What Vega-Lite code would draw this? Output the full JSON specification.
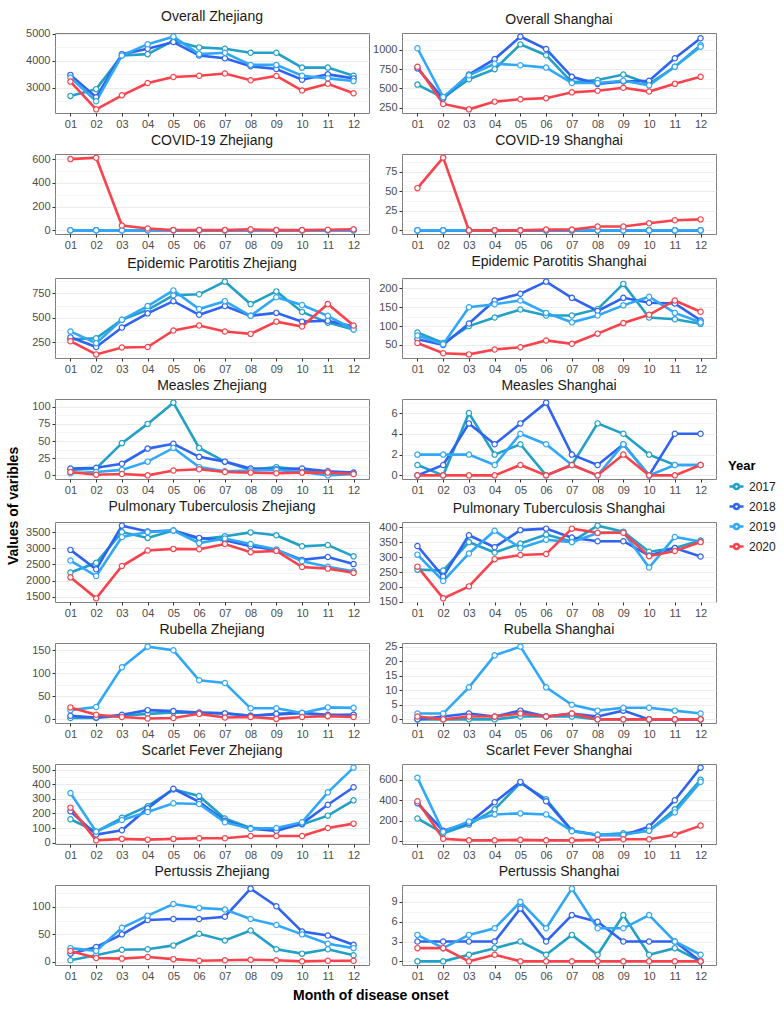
{
"$schema":"https://vega.github.io/schema/vega-lite/v6.json",
"background":"white",
"padding":{"left":7,"top":9,"right":4,"bottom":2},
"title":{"text":"Values of varibles","orient":"left","anchor":"middle","fontSize":14,"fontWeight":"bold","color":"#000000","offset":4,"font":"Liberation Sans"},
"config":{
 "font":"Liberation Sans",
 "numberFormat":"d",
 "view":{"stroke":"#7f7f7f","strokeWidth":1},
 "title":{"fontSize":14,"fontWeight":"normal","color":"#1a1a1a","offset":4},
 "axis":{"labelColor":"#4d4d4d","labelFontSize":11,"tickColor":"#333333","tickSize":3,"gridColor":"#ebebeb","domain":false,"labelPadding":2,"labelOverlap":false,"labelFlush":false},
 "axisX":{"labelAngle":0},
 "range":{"category":["#22a0c6","#2f63f0","#31a7f7","#f8434d"]},
 "line":{"strokeWidth":2.6},
 "legend":{"titleFontSize":13,"titleFontWeight":"bold","titleColor":"#000000","labelFontSize":12,"labelColor":"#1a1a1a","symbolSize":196,"symbolStrokeWidth":2,"symbolFillColor":"white","rowPadding":3}
},
"datasets":{
"OZ":[{"m":"01","y":"2017","v":2700},{"m":"02","y":"2017","v":2950},{"m":"03","y":"2017","v":4200},{"m":"04","y":"2017","v":4250},{"m":"05","y":"2017","v":4750},{"m":"06","y":"2017","v":4500},{"m":"07","y":"2017","v":4450},{"m":"08","y":"2017","v":4300},{"m":"09","y":"2017","v":4300},{"m":"10","y":"2017","v":3750},{"m":"11","y":"2017","v":3750},{"m":"12","y":"2017","v":3450},
{"m":"01","y":"2018","v":3480},{"m":"02","y":"2018","v":2650},{"m":"03","y":"2018","v":4250},{"m":"04","y":"2018","v":4450},{"m":"05","y":"2018","v":4700},{"m":"06","y":"2018","v":4200},{"m":"07","y":"2018","v":4100},{"m":"08","y":"2018","v":3800},{"m":"09","y":"2018","v":3700},{"m":"10","y":"2018","v":3300},{"m":"11","y":"2018","v":3500},{"m":"12","y":"2018","v":3350},
{"m":"01","y":"2019","v":3380},{"m":"02","y":"2019","v":2500},{"m":"03","y":"2019","v":4200},{"m":"04","y":"2019","v":4620},{"m":"05","y":"2019","v":4900},{"m":"06","y":"2019","v":4250},{"m":"07","y":"2019","v":4300},{"m":"08","y":"2019","v":3850},{"m":"09","y":"2019","v":3850},{"m":"10","y":"2019","v":3450},{"m":"11","y":"2019","v":3350},{"m":"12","y":"2019","v":3250},
{"m":"01","y":"2020","v":3230},{"m":"02","y":"2020","v":2200},{"m":"03","y":"2020","v":2720},{"m":"04","y":"2020","v":3180},{"m":"05","y":"2020","v":3400},{"m":"06","y":"2020","v":3450},{"m":"07","y":"2020","v":3530},{"m":"08","y":"2020","v":3280},{"m":"09","y":"2020","v":3440},{"m":"10","y":"2020","v":2900},{"m":"11","y":"2020","v":3150},{"m":"12","y":"2020","v":2800}],
"OS":[{"m":"01","y":"2017","v":550},{"m":"02","y":"2017","v":380},{"m":"03","y":"2017","v":620},{"m":"04","y":"2017","v":750},{"m":"05","y":"2017","v":1070},{"m":"06","y":"2017","v":930},{"m":"07","y":"2017","v":580},{"m":"08","y":"2017","v":610},{"m":"09","y":"2017","v":680},{"m":"10","y":"2017","v":560},{"m":"11","y":"2017","v":780},{"m":"12","y":"2017","v":1060},
{"m":"01","y":"2018","v":760},{"m":"02","y":"2018","v":370},{"m":"03","y":"2018","v":680},{"m":"04","y":"2018","v":880},{"m":"05","y":"2018","v":1170},{"m":"06","y":"2018","v":1010},{"m":"07","y":"2018","v":650},{"m":"08","y":"2018","v":560},{"m":"09","y":"2018","v":590},{"m":"10","y":"2018","v":600},{"m":"11","y":"2018","v":890},{"m":"12","y":"2018","v":1150},
{"m":"01","y":"2019","v":1020},{"m":"02","y":"2019","v":390},{"m":"03","y":"2019","v":670},{"m":"04","y":"2019","v":820},{"m":"05","y":"2019","v":800},{"m":"06","y":"2019","v":770},{"m":"07","y":"2019","v":570},{"m":"08","y":"2019","v":570},{"m":"09","y":"2019","v":600},{"m":"10","y":"2019","v":540},{"m":"11","y":"2019","v":780},{"m":"12","y":"2019","v":1040},
{"m":"01","y":"2020","v":780},{"m":"02","y":"2020","v":300},{"m":"03","y":"2020","v":230},{"m":"04","y":"2020","v":330},{"m":"05","y":"2020","v":360},{"m":"06","y":"2020","v":375},{"m":"07","y":"2020","v":450},{"m":"08","y":"2020","v":470},{"m":"09","y":"2020","v":510},{"m":"10","y":"2020","v":460},{"m":"11","y":"2020","v":560},{"m":"12","y":"2020","v":650}],
"CZ":[{"m":"01","y":"2017","v":0},{"m":"02","y":"2017","v":0},{"m":"03","y":"2017","v":0},{"m":"04","y":"2017","v":0},{"m":"05","y":"2017","v":0},{"m":"06","y":"2017","v":0},{"m":"07","y":"2017","v":0},{"m":"08","y":"2017","v":0},{"m":"09","y":"2017","v":0},{"m":"10","y":"2017","v":0},{"m":"11","y":"2017","v":0},{"m":"12","y":"2017","v":0},
{"m":"01","y":"2018","v":0},{"m":"02","y":"2018","v":0},{"m":"03","y":"2018","v":0},{"m":"04","y":"2018","v":0},{"m":"05","y":"2018","v":0},{"m":"06","y":"2018","v":0},{"m":"07","y":"2018","v":0},{"m":"08","y":"2018","v":0},{"m":"09","y":"2018","v":0},{"m":"10","y":"2018","v":0},{"m":"11","y":"2018","v":0},{"m":"12","y":"2018","v":0},
{"m":"01","y":"2019","v":0},{"m":"02","y":"2019","v":0},{"m":"03","y":"2019","v":0},{"m":"04","y":"2019","v":0},{"m":"05","y":"2019","v":0},{"m":"06","y":"2019","v":0},{"m":"07","y":"2019","v":0},{"m":"08","y":"2019","v":0},{"m":"09","y":"2019","v":0},{"m":"10","y":"2019","v":0},{"m":"11","y":"2019","v":0},{"m":"12","y":"2019","v":0},
{"m":"01","y":"2020","v":600},{"m":"02","y":"2020","v":612},{"m":"03","y":"2020","v":40},{"m":"04","y":"2020","v":15},{"m":"05","y":"2020","v":2},{"m":"06","y":"2020","v":2},{"m":"07","y":"2020","v":2},{"m":"08","y":"2020","v":8},{"m":"09","y":"2020","v":2},{"m":"10","y":"2020","v":2},{"m":"11","y":"2020","v":5},{"m":"12","y":"2020","v":8}],
"CS":[{"m":"01","y":"2017","v":0},{"m":"02","y":"2017","v":0},{"m":"03","y":"2017","v":0},{"m":"04","y":"2017","v":0},{"m":"05","y":"2017","v":0},{"m":"06","y":"2017","v":0},{"m":"07","y":"2017","v":0},{"m":"08","y":"2017","v":0},{"m":"09","y":"2017","v":0},{"m":"10","y":"2017","v":0},{"m":"11","y":"2017","v":0},{"m":"12","y":"2017","v":0},
{"m":"01","y":"2018","v":0},{"m":"02","y":"2018","v":0},{"m":"03","y":"2018","v":0},{"m":"04","y":"2018","v":0},{"m":"05","y":"2018","v":0},{"m":"06","y":"2018","v":0},{"m":"07","y":"2018","v":0},{"m":"08","y":"2018","v":0},{"m":"09","y":"2018","v":0},{"m":"10","y":"2018","v":0},{"m":"11","y":"2018","v":0},{"m":"12","y":"2018","v":0},
{"m":"01","y":"2019","v":0},{"m":"02","y":"2019","v":0},{"m":"03","y":"2019","v":0},{"m":"04","y":"2019","v":0},{"m":"05","y":"2019","v":0},{"m":"06","y":"2019","v":0},{"m":"07","y":"2019","v":0},{"m":"08","y":"2019","v":0},{"m":"09","y":"2019","v":0},{"m":"10","y":"2019","v":0},{"m":"11","y":"2019","v":0},{"m":"12","y":"2019","v":0},
{"m":"01","y":"2020","v":54},{"m":"02","y":"2020","v":93},{"m":"03","y":"2020","v":0},{"m":"04","y":"2020","v":0},{"m":"05","y":"2020","v":0},{"m":"06","y":"2020","v":1},{"m":"07","y":"2020","v":1},{"m":"08","y":"2020","v":5},{"m":"09","y":"2020","v":5},{"m":"10","y":"2020","v":9},{"m":"11","y":"2020","v":13},{"m":"12","y":"2020","v":14}],
"EZ":[{"m":"01","y":"2017","v":280},{"m":"02","y":"2017","v":290},{"m":"03","y":"2017","v":480},{"m":"04","y":"2017","v":580},{"m":"05","y":"2017","v":730},{"m":"06","y":"2017","v":740},{"m":"07","y":"2017","v":870},{"m":"08","y":"2017","v":640},{"m":"09","y":"2017","v":770},{"m":"10","y":"2017","v":560},{"m":"11","y":"2017","v":450},{"m":"12","y":"2017","v":380},
{"m":"01","y":"2018","v":300},{"m":"02","y":"2018","v":200},{"m":"03","y":"2018","v":400},{"m":"04","y":"2018","v":545},{"m":"05","y":"2018","v":670},{"m":"06","y":"2018","v":530},{"m":"07","y":"2018","v":620},{"m":"08","y":"2018","v":520},{"m":"09","y":"2018","v":550},{"m":"10","y":"2018","v":460},{"m":"11","y":"2018","v":470},{"m":"12","y":"2018","v":410},
{"m":"01","y":"2019","v":360},{"m":"02","y":"2019","v":240},{"m":"03","y":"2019","v":480},{"m":"04","y":"2019","v":620},{"m":"05","y":"2019","v":780},{"m":"06","y":"2019","v":590},{"m":"07","y":"2019","v":670},{"m":"08","y":"2019","v":520},{"m":"09","y":"2019","v":710},{"m":"10","y":"2019","v":630},{"m":"11","y":"2019","v":520},{"m":"12","y":"2019","v":380},
{"m":"01","y":"2020","v":260},{"m":"02","y":"2020","v":125},{"m":"03","y":"2020","v":195},{"m":"04","y":"2020","v":200},{"m":"05","y":"2020","v":370},{"m":"06","y":"2020","v":420},{"m":"07","y":"2020","v":360},{"m":"08","y":"2020","v":335},{"m":"09","y":"2020","v":460},{"m":"10","y":"2020","v":410},{"m":"11","y":"2020","v":640},{"m":"12","y":"2020","v":420}],
"ES":[{"m":"01","y":"2017","v":83},{"m":"02","y":"2017","v":55},{"m":"03","y":"2017","v":100},{"m":"04","y":"2017","v":123},{"m":"05","y":"2017","v":144},{"m":"06","y":"2017","v":128},{"m":"07","y":"2017","v":128},{"m":"08","y":"2017","v":145},{"m":"09","y":"2017","v":212},{"m":"10","y":"2017","v":123},{"m":"11","y":"2017","v":118},{"m":"12","y":"2017","v":106},
{"m":"01","y":"2018","v":65},{"m":"02","y":"2018","v":50},{"m":"03","y":"2018","v":107},{"m":"04","y":"2018","v":168},{"m":"05","y":"2018","v":186},{"m":"06","y":"2018","v":218},{"m":"07","y":"2018","v":175},{"m":"08","y":"2018","v":140},{"m":"09","y":"2018","v":175},{"m":"10","y":"2018","v":162},{"m":"11","y":"2018","v":160},{"m":"12","y":"2018","v":115},
{"m":"01","y":"2019","v":75},{"m":"02","y":"2019","v":52},{"m":"03","y":"2019","v":150},{"m":"04","y":"2019","v":158},{"m":"05","y":"2019","v":168},{"m":"06","y":"2019","v":135},{"m":"07","y":"2019","v":110},{"m":"08","y":"2019","v":128},{"m":"09","y":"2019","v":155},{"m":"10","y":"2019","v":178},{"m":"11","y":"2019","v":135},{"m":"12","y":"2019","v":110},
{"m":"01","y":"2020","v":55},{"m":"02","y":"2020","v":28},{"m":"03","y":"2020","v":25},{"m":"04","y":"2020","v":38},{"m":"05","y":"2020","v":44},{"m":"06","y":"2020","v":62},{"m":"07","y":"2020","v":53},{"m":"08","y":"2020","v":80},{"m":"09","y":"2020","v":108},{"m":"10","y":"2020","v":130},{"m":"11","y":"2020","v":168},{"m":"12","y":"2020","v":138}],
"MZ":[{"m":"01","y":"2017","v":8},{"m":"02","y":"2017","v":10},{"m":"03","y":"2017","v":47},{"m":"04","y":"2017","v":75},{"m":"05","y":"2017","v":106},{"m":"06","y":"2017","v":40},{"m":"07","y":"2017","v":20},{"m":"08","y":"2017","v":8},{"m":"09","y":"2017","v":12},{"m":"10","y":"2017","v":8},{"m":"11","y":"2017","v":4},{"m":"12","y":"2017","v":3},
{"m":"01","y":"2018","v":10},{"m":"02","y":"2018","v":11},{"m":"03","y":"2018","v":17},{"m":"04","y":"2018","v":39},{"m":"05","y":"2018","v":46},{"m":"06","y":"2018","v":27},{"m":"07","y":"2018","v":20},{"m":"08","y":"2018","v":10},{"m":"09","y":"2018","v":9},{"m":"10","y":"2018","v":10},{"m":"11","y":"2018","v":6},{"m":"12","y":"2018","v":4},
{"m":"01","y":"2019","v":3},{"m":"02","y":"2019","v":5},{"m":"03","y":"2019","v":8},{"m":"04","y":"2019","v":20},{"m":"05","y":"2019","v":40},{"m":"06","y":"2019","v":12},{"m":"07","y":"2019","v":6},{"m":"08","y":"2019","v":7},{"m":"09","y":"2019","v":8},{"m":"10","y":"2019","v":5},{"m":"11","y":"2019","v":0},{"m":"12","y":"2019","v":2},
{"m":"01","y":"2020","v":5},{"m":"02","y":"2020","v":1},{"m":"03","y":"2020","v":2},{"m":"04","y":"2020","v":0},{"m":"05","y":"2020","v":7},{"m":"06","y":"2020","v":9},{"m":"07","y":"2020","v":5},{"m":"08","y":"2020","v":4},{"m":"09","y":"2020","v":3},{"m":"10","y":"2020","v":4},{"m":"11","y":"2020","v":4},{"m":"12","y":"2020","v":2}],
"MS":[{"m":"01","y":"2017","v":1},{"m":"02","y":"2017","v":0},{"m":"03","y":"2017","v":6},{"m":"04","y":"2017","v":2},{"m":"05","y":"2017","v":3},{"m":"06","y":"2017","v":0},{"m":"07","y":"2017","v":1},{"m":"08","y":"2017","v":5},{"m":"09","y":"2017","v":4},{"m":"10","y":"2017","v":2},{"m":"11","y":"2017","v":1},{"m":"12","y":"2017","v":1},
{"m":"01","y":"2018","v":0},{"m":"02","y":"2018","v":1},{"m":"03","y":"2018","v":5},{"m":"04","y":"2018","v":3},{"m":"05","y":"2018","v":5},{"m":"06","y":"2018","v":7},{"m":"07","y":"2018","v":2},{"m":"08","y":"2018","v":1},{"m":"09","y":"2018","v":3},{"m":"10","y":"2018","v":0},{"m":"11","y":"2018","v":4},{"m":"12","y":"2018","v":4},
{"m":"01","y":"2019","v":2},{"m":"02","y":"2019","v":2},{"m":"03","y":"2019","v":2},{"m":"04","y":"2019","v":1},{"m":"05","y":"2019","v":4},{"m":"06","y":"2019","v":3},{"m":"07","y":"2019","v":1},{"m":"08","y":"2019","v":0},{"m":"09","y":"2019","v":3},{"m":"10","y":"2019","v":0},{"m":"11","y":"2019","v":1},{"m":"12","y":"2019","v":1},
{"m":"01","y":"2020","v":0},{"m":"02","y":"2020","v":0},{"m":"03","y":"2020","v":0},{"m":"04","y":"2020","v":0},{"m":"05","y":"2020","v":1},{"m":"06","y":"2020","v":0},{"m":"07","y":"2020","v":1},{"m":"08","y":"2020","v":0},{"m":"09","y":"2020","v":2},{"m":"10","y":"2020","v":0},{"m":"11","y":"2020","v":0},{"m":"12","y":"2020","v":1}],
"PZ":[{"m":"01","y":"2017","v":2250},{"m":"02","y":"2017","v":2550},{"m":"03","y":"2017","v":3500},{"m":"04","y":"2017","v":3320},{"m":"05","y":"2017","v":3550},{"m":"06","y":"2017","v":3280},{"m":"07","y":"2017","v":3370},{"m":"08","y":"2017","v":3490},{"m":"09","y":"2017","v":3400},{"m":"10","y":"2017","v":3060},{"m":"11","y":"2017","v":3100},{"m":"12","y":"2017","v":2750},
{"m":"01","y":"2018","v":2950},{"m":"02","y":"2018","v":2350},{"m":"03","y":"2018","v":3700},{"m":"04","y":"2018","v":3520},{"m":"05","y":"2018","v":3550},{"m":"06","y":"2018","v":3320},{"m":"07","y":"2018","v":3250},{"m":"08","y":"2018","v":3060},{"m":"09","y":"2018","v":2950},{"m":"10","y":"2018","v":2640},{"m":"11","y":"2018","v":2730},{"m":"12","y":"2018","v":2510},
{"m":"01","y":"2019","v":2620},{"m":"02","y":"2019","v":2140},{"m":"03","y":"2019","v":3350},{"m":"04","y":"2019","v":3500},{"m":"05","y":"2019","v":3550},{"m":"06","y":"2019","v":3160},{"m":"07","y":"2019","v":3300},{"m":"08","y":"2019","v":3130},{"m":"09","y":"2019","v":2960},{"m":"10","y":"2019","v":2600},{"m":"11","y":"2019","v":2430},{"m":"12","y":"2019","v":2290},
{"m":"01","y":"2020","v":2100},{"m":"02","y":"2020","v":1450},{"m":"03","y":"2020","v":2450},{"m":"04","y":"2020","v":2930},{"m":"05","y":"2020","v":2980},{"m":"06","y":"2020","v":2970},{"m":"07","y":"2020","v":3130},{"m":"08","y":"2020","v":2880},{"m":"09","y":"2020","v":2920},{"m":"10","y":"2020","v":2420},{"m":"11","y":"2020","v":2370},{"m":"12","y":"2020","v":2240}],
"PS":[{"m":"01","y":"2017","v":258},{"m":"02","y":"2017","v":255},{"m":"03","y":"2017","v":350},{"m":"04","y":"2017","v":315},{"m":"05","y":"2017","v":345},{"m":"06","y":"2017","v":375},{"m":"07","y":"2017","v":352},{"m":"08","y":"2017","v":405},{"m":"09","y":"2017","v":385},{"m":"10","y":"2017","v":318},{"m":"11","y":"2017","v":330},{"m":"12","y":"2017","v":355},
{"m":"01","y":"2018","v":337},{"m":"02","y":"2018","v":235},{"m":"03","y":"2018","v":373},{"m":"04","y":"2018","v":333},{"m":"05","y":"2018","v":390},{"m":"06","y":"2018","v":395},{"m":"07","y":"2018","v":365},{"m":"08","y":"2018","v":353},{"m":"09","y":"2018","v":353},{"m":"10","y":"2018","v":305},{"m":"11","y":"2018","v":330},{"m":"12","y":"2018","v":302},
{"m":"01","y":"2019","v":308},{"m":"02","y":"2019","v":220},{"m":"03","y":"2019","v":312},{"m":"04","y":"2019","v":388},{"m":"05","y":"2019","v":330},{"m":"06","y":"2019","v":358},{"m":"07","y":"2019","v":350},{"m":"08","y":"2019","v":380},{"m":"09","y":"2019","v":383},{"m":"10","y":"2019","v":265},{"m":"11","y":"2019","v":367},{"m":"12","y":"2019","v":352},
{"m":"01","y":"2020","v":268},{"m":"02","y":"2020","v":162},{"m":"03","y":"2020","v":202},{"m":"04","y":"2020","v":293},{"m":"05","y":"2020","v":307},{"m":"06","y":"2020","v":310},{"m":"07","y":"2020","v":395},{"m":"08","y":"2020","v":381},{"m":"09","y":"2020","v":381},{"m":"10","y":"2020","v":303},{"m":"11","y":"2020","v":320},{"m":"12","y":"2020","v":350}],
"RZ":[{"m":"01","y":"2017","v":3},{"m":"02","y":"2017","v":3},{"m":"03","y":"2017","v":8},{"m":"04","y":"2017","v":12},{"m":"05","y":"2017","v":15},{"m":"06","y":"2017","v":14},{"m":"07","y":"2017","v":13},{"m":"08","y":"2017","v":8},{"m":"09","y":"2017","v":10},{"m":"10","y":"2017","v":14},{"m":"11","y":"2017","v":8},{"m":"12","y":"2017","v":10},
{"m":"01","y":"2018","v":8},{"m":"02","y":"2018","v":4},{"m":"03","y":"2018","v":10},{"m":"04","y":"2018","v":20},{"m":"05","y":"2018","v":18},{"m":"06","y":"2018","v":15},{"m":"07","y":"2018","v":13},{"m":"08","y":"2018","v":8},{"m":"09","y":"2018","v":12},{"m":"10","y":"2018","v":14},{"m":"11","y":"2018","v":10},{"m":"12","y":"2018","v":10},
{"m":"01","y":"2019","v":20},{"m":"02","y":"2019","v":27},{"m":"03","y":"2019","v":113},{"m":"04","y":"2019","v":158},{"m":"05","y":"2019","v":150},{"m":"06","y":"2019","v":85},{"m":"07","y":"2019","v":79},{"m":"08","y":"2019","v":24},{"m":"09","y":"2019","v":24},{"m":"10","y":"2019","v":14},{"m":"11","y":"2019","v":26},{"m":"12","y":"2019","v":25},
{"m":"01","y":"2020","v":26},{"m":"02","y":"2020","v":10},{"m":"03","y":"2020","v":5},{"m":"04","y":"2020","v":2},{"m":"05","y":"2020","v":3},{"m":"06","y":"2020","v":12},{"m":"07","y":"2020","v":4},{"m":"08","y":"2020","v":5},{"m":"09","y":"2020","v":1},{"m":"10","y":"2020","v":5},{"m":"11","y":"2020","v":7},{"m":"12","y":"2020","v":5}],
"RS":[{"m":"01","y":"2017","v":0},{"m":"02","y":"2017","v":0},{"m":"03","y":"2017","v":0},{"m":"04","y":"2017","v":0},{"m":"05","y":"2017","v":1},{"m":"06","y":"2017","v":1},{"m":"07","y":"2017","v":1},{"m":"08","y":"2017","v":0},{"m":"09","y":"2017","v":0},{"m":"10","y":"2017","v":0},{"m":"11","y":"2017","v":0},{"m":"12","y":"2017","v":0},
{"m":"01","y":"2018","v":0},{"m":"02","y":"2018","v":1},{"m":"03","y":"2018","v":2},{"m":"04","y":"2018","v":1},{"m":"05","y":"2018","v":3},{"m":"06","y":"2018","v":1},{"m":"07","y":"2018","v":2},{"m":"08","y":"2018","v":1},{"m":"09","y":"2018","v":3},{"m":"10","y":"2018","v":0},{"m":"11","y":"2018","v":0},{"m":"12","y":"2018","v":0},
{"m":"01","y":"2019","v":2},{"m":"02","y":"2019","v":2},{"m":"03","y":"2019","v":11},{"m":"04","y":"2019","v":22},{"m":"05","y":"2019","v":25},{"m":"06","y":"2019","v":11},{"m":"07","y":"2019","v":5},{"m":"08","y":"2019","v":3},{"m":"09","y":"2019","v":4},{"m":"10","y":"2019","v":4},{"m":"11","y":"2019","v":3},{"m":"12","y":"2019","v":2},
{"m":"01","y":"2020","v":1},{"m":"02","y":"2020","v":0},{"m":"03","y":"2020","v":1},{"m":"04","y":"2020","v":1},{"m":"05","y":"2020","v":2},{"m":"06","y":"2020","v":1},{"m":"07","y":"2020","v":2},{"m":"08","y":"2020","v":0},{"m":"09","y":"2020","v":0},{"m":"10","y":"2020","v":0},{"m":"11","y":"2020","v":0},{"m":"12","y":"2020","v":0}],
"SZ":[{"m":"01","y":"2017","v":160},{"m":"02","y":"2017","v":75},{"m":"03","y":"2017","v":170},{"m":"04","y":"2017","v":250},{"m":"05","y":"2017","v":365},{"m":"06","y":"2017","v":320},{"m":"07","y":"2017","v":165},{"m":"08","y":"2017","v":100},{"m":"09","y":"2017","v":95},{"m":"10","y":"2017","v":125},{"m":"11","y":"2017","v":185},{"m":"12","y":"2017","v":290},
{"m":"01","y":"2018","v":215},{"m":"02","y":"2018","v":55},{"m":"03","y":"2018","v":85},{"m":"04","y":"2018","v":235},{"m":"05","y":"2018","v":370},{"m":"06","y":"2018","v":280},{"m":"07","y":"2018","v":150},{"m":"08","y":"2018","v":95},{"m":"09","y":"2018","v":80},{"m":"10","y":"2018","v":130},{"m":"11","y":"2018","v":260},{"m":"12","y":"2018","v":380},
{"m":"01","y":"2019","v":340},{"m":"02","y":"2019","v":75},{"m":"03","y":"2019","v":155},{"m":"04","y":"2019","v":210},{"m":"05","y":"2019","v":270},{"m":"06","y":"2019","v":265},{"m":"07","y":"2019","v":140},{"m":"08","y":"2019","v":95},{"m":"09","y":"2019","v":100},{"m":"10","y":"2019","v":140},{"m":"11","y":"2019","v":345},{"m":"12","y":"2019","v":515},
{"m":"01","y":"2020","v":240},{"m":"02","y":"2020","v":15},{"m":"03","y":"2020","v":25},{"m":"04","y":"2020","v":20},{"m":"05","y":"2020","v":25},{"m":"06","y":"2020","v":30},{"m":"07","y":"2020","v":30},{"m":"08","y":"2020","v":45},{"m":"09","y":"2020","v":45},{"m":"10","y":"2020","v":45},{"m":"11","y":"2020","v":100},{"m":"12","y":"2020","v":130}],
"SS":[{"m":"01","y":"2017","v":220},{"m":"02","y":"2017","v":75},{"m":"03","y":"2017","v":160},{"m":"04","y":"2017","v":310},{"m":"05","y":"2017","v":570},{"m":"06","y":"2017","v":410},{"m":"07","y":"2017","v":100},{"m":"08","y":"2017","v":60},{"m":"09","y":"2017","v":75},{"m":"10","y":"2017","v":100},{"m":"11","y":"2017","v":310},{"m":"12","y":"2017","v":600},
{"m":"01","y":"2018","v":370},{"m":"02","y":"2018","v":100},{"m":"03","y":"2018","v":175},{"m":"04","y":"2018","v":380},{"m":"05","y":"2018","v":580},{"m":"06","y":"2018","v":390},{"m":"07","y":"2018","v":100},{"m":"08","y":"2018","v":55},{"m":"09","y":"2018","v":55},{"m":"10","y":"2018","v":140},{"m":"11","y":"2018","v":400},{"m":"12","y":"2018","v":720},
{"m":"01","y":"2019","v":620},{"m":"02","y":"2019","v":90},{"m":"03","y":"2019","v":190},{"m":"04","y":"2019","v":260},{"m":"05","y":"2019","v":270},{"m":"06","y":"2019","v":260},{"m":"07","y":"2019","v":95},{"m":"08","y":"2019","v":60},{"m":"09","y":"2019","v":60},{"m":"10","y":"2019","v":100},{"m":"11","y":"2019","v":280},{"m":"12","y":"2019","v":580},
{"m":"01","y":"2020","v":390},{"m":"02","y":"2020","v":20},{"m":"03","y":"2020","v":5},{"m":"04","y":"2020","v":5},{"m":"05","y":"2020","v":10},{"m":"06","y":"2020","v":5},{"m":"07","y":"2020","v":5},{"m":"08","y":"2020","v":10},{"m":"09","y":"2020","v":15},{"m":"10","y":"2020","v":15},{"m":"11","y":"2020","v":60},{"m":"12","y":"2020","v":150}],
"TZ":[{"m":"01","y":"2017","v":3},{"m":"02","y":"2017","v":12},{"m":"03","y":"2017","v":22},{"m":"04","y":"2017","v":23},{"m":"05","y":"2017","v":30},{"m":"06","y":"2017","v":51},{"m":"07","y":"2017","v":39},{"m":"08","y":"2017","v":57},{"m":"09","y":"2017","v":23},{"m":"10","y":"2017","v":15},{"m":"11","y":"2017","v":23},{"m":"12","y":"2017","v":12},
{"m":"01","y":"2018","v":15},{"m":"02","y":"2018","v":27},{"m":"03","y":"2018","v":50},{"m":"04","y":"2018","v":76},{"m":"05","y":"2018","v":78},{"m":"06","y":"2018","v":78},{"m":"07","y":"2018","v":82},{"m":"08","y":"2018","v":133},{"m":"09","y":"2018","v":101},{"m":"10","y":"2018","v":55},{"m":"11","y":"2018","v":48},{"m":"12","y":"2018","v":31},
{"m":"01","y":"2019","v":25},{"m":"02","y":"2019","v":20},{"m":"03","y":"2019","v":62},{"m":"04","y":"2019","v":84},{"m":"05","y":"2019","v":105},{"m":"06","y":"2019","v":98},{"m":"07","y":"2019","v":95},{"m":"08","y":"2019","v":78},{"m":"09","y":"2019","v":67},{"m":"10","y":"2019","v":50},{"m":"11","y":"2019","v":33},{"m":"12","y":"2019","v":25},
{"m":"01","y":"2020","v":20},{"m":"02","y":"2020","v":7},{"m":"03","y":"2020","v":6},{"m":"04","y":"2020","v":9},{"m":"05","y":"2020","v":5},{"m":"06","y":"2020","v":2},{"m":"07","y":"2020","v":3},{"m":"08","y":"2020","v":4},{"m":"09","y":"2020","v":3},{"m":"10","y":"2020","v":1},{"m":"11","y":"2020","v":2},{"m":"12","y":"2020","v":2}],
"TS":[{"m":"01","y":"2017","v":0},{"m":"02","y":"2017","v":0},{"m":"03","y":"2017","v":1},{"m":"04","y":"2017","v":2},{"m":"05","y":"2017","v":3},{"m":"06","y":"2017","v":1},{"m":"07","y":"2017","v":4},{"m":"08","y":"2017","v":1},{"m":"09","y":"2017","v":7},{"m":"10","y":"2017","v":1},{"m":"11","y":"2017","v":2},{"m":"12","y":"2017","v":0},
{"m":"01","y":"2018","v":3},{"m":"02","y":"2018","v":3},{"m":"03","y":"2018","v":3},{"m":"04","y":"2018","v":3},{"m":"05","y":"2018","v":8},{"m":"06","y":"2018","v":3},{"m":"07","y":"2018","v":7},{"m":"08","y":"2018","v":6},{"m":"09","y":"2018","v":3},{"m":"10","y":"2018","v":3},{"m":"11","y":"2018","v":3},{"m":"12","y":"2018","v":0},
{"m":"01","y":"2019","v":4},{"m":"02","y":"2019","v":2},{"m":"03","y":"2019","v":4},{"m":"04","y":"2019","v":5},{"m":"05","y":"2019","v":9},{"m":"06","y":"2019","v":5},{"m":"07","y":"2019","v":11},{"m":"08","y":"2019","v":5},{"m":"09","y":"2019","v":5},{"m":"10","y":"2019","v":7},{"m":"11","y":"2019","v":3},{"m":"12","y":"2019","v":1},
{"m":"01","y":"2020","v":2},{"m":"02","y":"2020","v":2},{"m":"03","y":"2020","v":0},{"m":"04","y":"2020","v":1},{"m":"05","y":"2020","v":0},{"m":"06","y":"2020","v":0},{"m":"07","y":"2020","v":0},{"m":"08","y":"2020","v":0},{"m":"09","y":"2020","v":0},{"m":"10","y":"2020","v":0},{"m":"11","y":"2020","v":0},{"m":"12","y":"2020","v":0}]
},
"vconcat":[{
"title":{"text":"Month of disease onset","orient":"bottom","anchor":"middle","fontSize":14,"fontWeight":"bold","color":"#000000","offset":7},
"columns":2,
"spacing":{"row":3,"column":2},
"concat":[
{"title":"Overall Zhejiang","data":{"name":"OZ"},"width":314,"height":80,"mark":{"type":"line","point":{"filled":false,"fill":"white","size":28,"strokeWidth":1.2}},
 "encoding":{"x":{"field":"m","type":"ordinal","title":null,"scale":{"type":"point","padding":0.6}},
 "y":{"field":"v","type":"quantitative","title":null,"scale":{"domain":[2065,5035],"nice":false,"zero":false},"axis":{"values":[2500,3000,3500,4000,4500,5000],"labelExpr":"datum.value % 1000 !== 0 ? '' : datum.label","gridWidth":{"condition":{"test":"datum.value % 1000 !== 0","value":0.5},"value":1},"tickOpacity":{"condition":{"test":"datum.value % 1000 !== 0","value":0},"value":1}}},
 "color":{"field":"y","type":"nominal","title":"Year","legend":{"orient":"none","legendX":673,"legendY":427,"symbolType":"M-1,0H-0.36M0.36,0H1M0.36,0A0.36,0.36,0,1,1,-0.36,0A0.36,0.36,0,1,1,0.36,0"}}}},
{"title":"Overall Shanghai","data":{"name":"OS"},"width":314,"height":80,"mark":{"type":"line","point":{"filled":false,"fill":"white","size":28,"strokeWidth":1.2}},
 "encoding":{"x":{"field":"m","type":"ordinal","title":null,"scale":{"type":"point","padding":0.6}},
 "y":{"field":"v","type":"quantitative","title":null,"scale":{"domain":[183,1217],"nice":false,"zero":false},"axis":{"values":[250,375,500,625,750,875,1000,1125],"labelExpr":"datum.value % 250 !== 0 ? '' : datum.label","gridWidth":{"condition":{"test":"datum.value % 250 !== 0","value":0.5},"value":1},"tickOpacity":{"condition":{"test":"datum.value % 250 !== 0","value":0},"value":1}}},
 "color":{"field":"y","type":"nominal","title":"Year","legend":{"orient":"none","legendX":673,"legendY":427,"symbolType":"M-1,0H-0.36M0.36,0H1M0.36,0A0.36,0.36,0,1,1,-0.36,0A0.36,0.36,0,1,1,0.36,0"}}}},
{"title":"COVID-19 Zhejiang","data":{"name":"CZ"},"width":314,"height":80,"mark":{"type":"line","point":{"filled":false,"fill":"white","size":28,"strokeWidth":1.2}},
 "encoding":{"x":{"field":"m","type":"ordinal","title":null,"scale":{"type":"point","padding":0.6}},
 "y":{"field":"v","type":"quantitative","title":null,"scale":{"domain":[-31,643],"nice":false,"zero":false},"axis":{"values":[0,100,200,300,400,500,600],"labelExpr":"datum.value % 200 !== 0 ? '' : datum.label","gridWidth":{"condition":{"test":"datum.value % 200 !== 0","value":0.5},"value":1},"tickOpacity":{"condition":{"test":"datum.value % 200 !== 0","value":0},"value":1}}},
 "color":{"field":"y","type":"nominal","title":"Year","legend":{"orient":"none","legendX":673,"legendY":427,"symbolType":"M-1,0H-0.36M0.36,0H1M0.36,0A0.36,0.36,0,1,1,-0.36,0A0.36,0.36,0,1,1,0.36,0"}}}},
{"title":"COVID-19 Shanghai","data":{"name":"CS"},"width":314,"height":80,"mark":{"type":"line","point":{"filled":false,"fill":"white","size":28,"strokeWidth":1.2}},
 "encoding":{"x":{"field":"m","type":"ordinal","title":null,"scale":{"type":"point","padding":0.6}},
 "y":{"field":"v","type":"quantitative","title":null,"scale":{"domain":[-4.65,97.65],"nice":false,"zero":false},"axis":{"values":[0,12.5,25,37.5,50,62.5,75,87.5],"labelExpr":"datum.value % 25 !== 0 ? '' : datum.label","gridWidth":{"condition":{"test":"datum.value % 25 !== 0","value":0.5},"value":1},"tickOpacity":{"condition":{"test":"datum.value % 25 !== 0","value":0},"value":1}}},
 "color":{"field":"y","type":"nominal","title":"Year","legend":{"orient":"none","legendX":673,"legendY":427,"symbolType":"M-1,0H-0.36M0.36,0H1M0.36,0A0.36,0.36,0,1,1,-0.36,0A0.36,0.36,0,1,1,0.36,0"}}}},
{"title":"Epidemic Parotitis Zhejiang","data":{"name":"EZ"},"width":314,"height":80,"mark":{"type":"line","point":{"filled":false,"fill":"white","size":28,"strokeWidth":1.2}},
 "encoding":{"x":{"field":"m","type":"ordinal","title":null,"scale":{"type":"point","padding":0.6}},
 "y":{"field":"v","type":"quantitative","title":null,"scale":{"domain":[88,907],"nice":false,"zero":false},"axis":{"values":[125,250,375,500,625,750,875],"labelExpr":"datum.value % 250 !== 0 ? '' : datum.label","gridWidth":{"condition":{"test":"datum.value % 250 !== 0","value":0.5},"value":1},"tickOpacity":{"condition":{"test":"datum.value % 250 !== 0","value":0},"value":1}}},
 "color":{"field":"y","type":"nominal","title":"Year","legend":{"orient":"none","legendX":673,"legendY":427,"symbolType":"M-1,0H-0.36M0.36,0H1M0.36,0A0.36,0.36,0,1,1,-0.36,0A0.36,0.36,0,1,1,0.36,0"}}}},
{"title":"Epidemic Parotitis Shanghai","data":{"name":"ES"},"width":314,"height":80,"mark":{"type":"line","point":{"filled":false,"fill":"white","size":28,"strokeWidth":1.2}},
 "encoding":{"x":{"field":"m","type":"ordinal","title":null,"scale":{"type":"point","padding":0.6}},
 "y":{"field":"v","type":"quantitative","title":null,"scale":{"domain":[15.4,227.6],"nice":false,"zero":false},"axis":{"values":[25,50,75,100,125,150,175,200,225],"labelExpr":"datum.value % 50 !== 0 ? '' : datum.label","gridWidth":{"condition":{"test":"datum.value % 50 !== 0","value":0.5},"value":1},"tickOpacity":{"condition":{"test":"datum.value % 50 !== 0","value":0},"value":1}}},
 "color":{"field":"y","type":"nominal","title":"Year","legend":{"orient":"none","legendX":673,"legendY":427,"symbolType":"M-1,0H-0.36M0.36,0H1M0.36,0A0.36,0.36,0,1,1,-0.36,0A0.36,0.36,0,1,1,0.36,0"}}}},
{"title":"Measles Zhejiang","data":{"name":"MZ"},"width":314,"height":80,"mark":{"type":"line","point":{"filled":false,"fill":"white","size":28,"strokeWidth":1.2}},
 "encoding":{"x":{"field":"m","type":"ordinal","title":null,"scale":{"type":"point","padding":0.6}},
 "y":{"field":"v","type":"quantitative","title":null,"scale":{"domain":[-5.3,111.3],"nice":false,"zero":false},"axis":{"values":[0,12.5,25,37.5,50,62.5,75,87.5,100],"labelExpr":"datum.value % 25 !== 0 ? '' : datum.label","gridWidth":{"condition":{"test":"datum.value % 25 !== 0","value":0.5},"value":1},"tickOpacity":{"condition":{"test":"datum.value % 25 !== 0","value":0},"value":1}}},
 "color":{"field":"y","type":"nominal","title":"Year","legend":{"orient":"none","legendX":673,"legendY":427,"symbolType":"M-1,0H-0.36M0.36,0H1M0.36,0A0.36,0.36,0,1,1,-0.36,0A0.36,0.36,0,1,1,0.36,0"}}}},
{"title":"Measles Shanghai","data":{"name":"MS"},"width":314,"height":80,"mark":{"type":"line","point":{"filled":false,"fill":"white","size":28,"strokeWidth":1.2}},
 "encoding":{"x":{"field":"m","type":"ordinal","title":null,"scale":{"type":"point","padding":0.6}},
 "y":{"field":"v","type":"quantitative","title":null,"scale":{"domain":[-0.35,7.35],"nice":false,"zero":false},"axis":{"values":[0,1,2,3,4,5,6,7],"labelExpr":"datum.value % 2 !== 0 ? '' : datum.label","gridWidth":{"condition":{"test":"datum.value % 2 !== 0","value":0.5},"value":1},"tickOpacity":{"condition":{"test":"datum.value % 2 !== 0","value":0},"value":1}}},
 "color":{"field":"y","type":"nominal","title":"Year","legend":{"orient":"none","legendX":673,"legendY":427,"symbolType":"M-1,0H-0.36M0.36,0H1M0.36,0A0.36,0.36,0,1,1,-0.36,0A0.36,0.36,0,1,1,0.36,0"}}}},
{"title":"Pulmonary Tuberculosis Zhejiang","data":{"name":"PZ"},"width":314,"height":80,"mark":{"type":"line","point":{"filled":false,"fill":"white","size":28,"strokeWidth":1.2}},
 "encoding":{"x":{"field":"m","type":"ordinal","title":null,"scale":{"type":"point","padding":0.6}},
 "y":{"field":"v","type":"quantitative","title":null,"scale":{"domain":[1338,3812],"nice":false,"zero":false},"axis":{"values":[1500,1750,2000,2250,2500,2750,3000,3250,3500,3750],"labelExpr":"datum.value % 500 !== 0 ? '' : datum.label","gridWidth":{"condition":{"test":"datum.value % 500 !== 0","value":0.5},"value":1},"tickOpacity":{"condition":{"test":"datum.value % 500 !== 0","value":0},"value":1}}},
 "color":{"field":"y","type":"nominal","title":"Year","legend":{"orient":"none","legendX":673,"legendY":427,"symbolType":"M-1,0H-0.36M0.36,0H1M0.36,0A0.36,0.36,0,1,1,-0.36,0A0.36,0.36,0,1,1,0.36,0"}}}},
{"title":"Pulmonary Tuberculosis Shanghai","data":{"name":"PS"},"width":314,"height":80,"mark":{"type":"line","point":{"filled":false,"fill":"white","size":28,"strokeWidth":1.2}},
 "encoding":{"x":{"field":"m","type":"ordinal","title":null,"scale":{"type":"point","padding":0.6}},
 "y":{"field":"v","type":"quantitative","title":null,"scale":{"domain":[149.85,417.15],"nice":false,"zero":false},"axis":{"values":[150,175,200,225,250,275,300,325,350,375,400],"labelExpr":"datum.value % 50 !== 0 ? '' : datum.label","gridWidth":{"condition":{"test":"datum.value % 50 !== 0","value":0.5},"value":1},"tickOpacity":{"condition":{"test":"datum.value % 50 !== 0","value":0},"value":1}}},
 "color":{"field":"y","type":"nominal","title":"Year","legend":{"orient":"none","legendX":673,"legendY":427,"symbolType":"M-1,0H-0.36M0.36,0H1M0.36,0A0.36,0.36,0,1,1,-0.36,0A0.36,0.36,0,1,1,0.36,0"}}}},
{"title":"Rubella Zhejiang","data":{"name":"RZ"},"width":314,"height":80,"mark":{"type":"line","point":{"filled":false,"fill":"white","size":28,"strokeWidth":1.2}},
 "encoding":{"x":{"field":"m","type":"ordinal","title":null,"scale":{"type":"point","padding":0.6}},
 "y":{"field":"v","type":"quantitative","title":null,"scale":{"domain":[-7.9,165.9],"nice":false,"zero":false},"axis":{"values":[0,25,50,75,100,125,150],"labelExpr":"datum.value % 50 !== 0 ? '' : datum.label","gridWidth":{"condition":{"test":"datum.value % 50 !== 0","value":0.5},"value":1},"tickOpacity":{"condition":{"test":"datum.value % 50 !== 0","value":0},"value":1}}},
 "color":{"field":"y","type":"nominal","title":"Year","legend":{"orient":"none","legendX":673,"legendY":427,"symbolType":"M-1,0H-0.36M0.36,0H1M0.36,0A0.36,0.36,0,1,1,-0.36,0A0.36,0.36,0,1,1,0.36,0"}}}},
{"title":"Rubella Shanghai","data":{"name":"RS"},"width":314,"height":80,"mark":{"type":"line","point":{"filled":false,"fill":"white","size":28,"strokeWidth":1.2}},
 "encoding":{"x":{"field":"m","type":"ordinal","title":null,"scale":{"type":"point","padding":0.6}},
 "y":{"field":"v","type":"quantitative","title":null,"scale":{"domain":[-1.25,26.25],"nice":false,"zero":false},"axis":{"values":[0,2.5,5,7.5,10,12.5,15,17.5,20,22.5,25],"labelExpr":"datum.value % 5 !== 0 ? '' : datum.label","gridWidth":{"condition":{"test":"datum.value % 5 !== 0","value":0.5},"value":1},"tickOpacity":{"condition":{"test":"datum.value % 5 !== 0","value":0},"value":1}}},
 "color":{"field":"y","type":"nominal","title":"Year","legend":{"orient":"none","legendX":673,"legendY":427,"symbolType":"M-1,0H-0.36M0.36,0H1M0.36,0A0.36,0.36,0,1,1,-0.36,0A0.36,0.36,0,1,1,0.36,0"}}}},
{"title":"Scarlet Fever Zhejiang","data":{"name":"SZ"},"width":314,"height":80,"mark":{"type":"line","point":{"filled":false,"fill":"white","size":28,"strokeWidth":1.2}},
 "encoding":{"x":{"field":"m","type":"ordinal","title":null,"scale":{"type":"point","padding":0.6}},
 "y":{"field":"v","type":"quantitative","title":null,"scale":{"domain":[-10,540],"nice":false,"zero":false},"axis":{"values":[0,50,100,150,200,250,300,350,400,450,500],"labelExpr":"datum.value % 100 !== 0 ? '' : datum.label","gridWidth":{"condition":{"test":"datum.value % 100 !== 0","value":0.5},"value":1},"tickOpacity":{"condition":{"test":"datum.value % 100 !== 0","value":0},"value":1}}},
 "color":{"field":"y","type":"nominal","title":"Year","legend":{"orient":"none","legendX":673,"legendY":427,"symbolType":"M-1,0H-0.36M0.36,0H1M0.36,0A0.36,0.36,0,1,1,-0.36,0A0.36,0.36,0,1,1,0.36,0"}}}},
{"title":"Scarlet Fever Shanghai","data":{"name":"SS"},"width":314,"height":80,"mark":{"type":"line","point":{"filled":false,"fill":"white","size":28,"strokeWidth":1.2}},
 "encoding":{"x":{"field":"m","type":"ordinal","title":null,"scale":{"type":"point","padding":0.6}},
 "y":{"field":"v","type":"quantitative","title":null,"scale":{"domain":[-31,756],"nice":false,"zero":false},"axis":{"values":[0,100,200,300,400,500,600,700],"labelExpr":"datum.value % 200 !== 0 ? '' : datum.label","gridWidth":{"condition":{"test":"datum.value % 200 !== 0","value":0.5},"value":1},"tickOpacity":{"condition":{"test":"datum.value % 200 !== 0","value":0},"value":1}}},
 "color":{"field":"y","type":"nominal","title":"Year","legend":{"orient":"none","legendX":673,"legendY":427,"symbolType":"M-1,0H-0.36M0.36,0H1M0.36,0A0.36,0.36,0,1,1,-0.36,0A0.36,0.36,0,1,1,0.36,0"}}}},
{"title":"Pertussis Zhejiang","data":{"name":"TZ"},"width":314,"height":80,"mark":{"type":"line","point":{"filled":false,"fill":"white","size":28,"strokeWidth":1.2}},
 "encoding":{"x":{"field":"m","type":"ordinal","title":null,"scale":{"type":"point","padding":0.6}},
 "y":{"field":"v","type":"quantitative","title":null,"scale":{"domain":[-5.6,139.6],"nice":false,"zero":false},"axis":{"values":[0,25,50,75,100,125],"labelExpr":"datum.value % 50 !== 0 ? '' : datum.label","gridWidth":{"condition":{"test":"datum.value % 50 !== 0","value":0.5},"value":1},"tickOpacity":{"condition":{"test":"datum.value % 50 !== 0","value":0},"value":1}}},
 "color":{"field":"y","type":"nominal","title":"Year","legend":{"orient":"none","legendX":673,"legendY":427,"symbolType":"M-1,0H-0.36M0.36,0H1M0.36,0A0.36,0.36,0,1,1,-0.36,0A0.36,0.36,0,1,1,0.36,0"}}}},
{"title":"Pertussis Shanghai","data":{"name":"TS"},"width":314,"height":80,"mark":{"type":"line","point":{"filled":false,"fill":"white","size":28,"strokeWidth":1.2}},
 "encoding":{"x":{"field":"m","type":"ordinal","title":null,"scale":{"type":"point","padding":0.6}},
 "y":{"field":"v","type":"quantitative","title":null,"scale":{"domain":[-0.55,11.55],"nice":false,"zero":false},"axis":{"values":[0,1.5,3,4.5,6,7.5,9,10.5],"labelExpr":"datum.value % 3 !== 0 ? '' : datum.label","gridWidth":{"condition":{"test":"datum.value % 3 !== 0","value":0.5},"value":1},"tickOpacity":{"condition":{"test":"datum.value % 3 !== 0","value":0},"value":1}}},
 "color":{"field":"y","type":"nominal","title":"Year","legend":{"orient":"none","legendX":673,"legendY":427,"symbolType":"M-1,0H-0.36M0.36,0H1M0.36,0A0.36,0.36,0,1,1,-0.36,0A0.36,0.36,0,1,1,0.36,0"}}}}
]
}]
}
